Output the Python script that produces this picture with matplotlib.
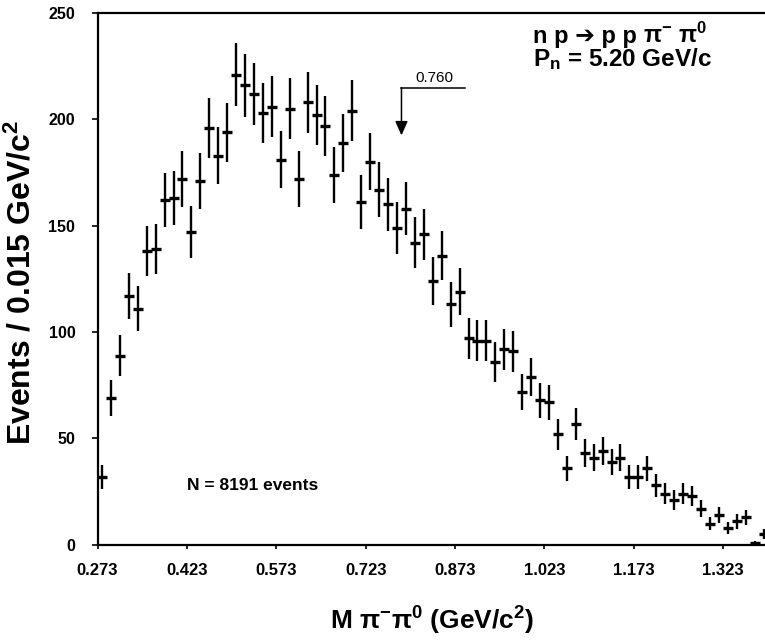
import numpy as np
import matplotlib
matplotlib.use("Agg")
import matplotlib.pyplot as plt

# histogram of M(pi- pi0), bins of 0.015 GeV/c^2 starting at 0.273
bin_start = 0.273
bin_width = 0.015
counts = [32, 69, 89, 117, 111, 138, 139, 162, 163, 172,
          147, 171, 196, 183, 194, 221, 216, 212, 203, 206,
          181, 205, 172, 208, 202, 197, 174, 189, 204, 161,
          180, 167, 160, 149, 158, 142, 146, 124, 136, 113,
          119, 97, 96, 96, 86, 92, 91, 72, 79, 68,
          67, 52, 36, 57, 43, 41, 44, 39, 41, 32,
          32, 36, 28, 24, 21, 24, 23, 17, 10, 14,
          8, 11, 13, 1, 5]
x_ticks = [0.273, 0.423, 0.573, 0.723, 0.873, 1.023, 1.173, 1.323]
y_ticks = [0, 50, 100, 150, 200, 250]

# marker for the 0.760 cut
cut_label = "0.760"
cut_x, cut_x_end = 0.783, 0.889
cut_top, cut_tip = 214.8, 192.5

plt.rcParams["font.family"] = ["Liberation Sans", "DejaVu Sans"]
plt.rcParams["font.weight"] = "bold"
plt.rcParams["mathtext.fontset"] = "custom"
plt.rcParams["mathtext.rm"] = "Liberation Sans:bold"
plt.rcParams["mathtext.default"] = "rm"

counts = np.array(counts, dtype=float)
centers = bin_start + bin_width * (np.arange(len(counts)) + 0.5)
errors = np.sqrt(counts)  # statistical errors as drawn

fig = plt.figure(figsize=(7.65, 6.41), dpi=100)
ax = fig.add_axes([0.1275, 0.150, 0.8725, 0.8297])

ax.errorbar(centers, counts, yerr=errors, fmt="_", color="black",
            ms=7, mew=2.4, elinewidth=1.7, capsize=0, clip_on=False)

ax.set_xlim(0.273, 1.393)
ax.set_ylim(0, 250)
ax.set_xticks(x_ticks)
ax.set_xticklabels([f"{t:.3f}" for t in x_ticks])
ax.set_yticks(y_ticks)
ax.tick_params(axis="x", direction="out", length=3, width=1.2, pad=10, labelsize=12)
ax.tick_params(axis="y", direction="out", length=4, width=1.2, pad=12, labelsize=11.5)
for lab in ax.get_xticklabels() + ax.get_yticklabels():
    lab.set_fontweight("bold")

for side in ("left", "bottom", "top"):
    ax.spines[side].set_linewidth(1.6)
ax.spines["right"].set_visible(False)

# cut marker
ax.plot([cut_x, cut_x_end], [cut_top, cut_top], color="black", lw=1.1)
ax.annotate("", xy=(cut_x, cut_tip), xytext=(cut_x, cut_top),
            arrowprops=dict(arrowstyle="-|>,head_length=0.85,head_width=0.38",
                            color="black", lw=1.1, shrinkA=0, shrinkB=0))
ax.text(0.806, 217.5, cut_label, fontsize=11, fontweight="normal",
        ha="left", va="baseline")

# reaction label: heavy arrow in plain text, pions with mathtext superscripts
t1 = ax.text(1.004, 236, "n p \u2794 p p", fontsize=17, fontweight="bold",
             ha="left", va="baseline")
fig.canvas.draw()
right_px = t1.get_window_extent().x1
x_after = ax.transData.inverted().transform((right_px + 6, 0))[0]
ax.text(x_after, 236, "\u03c0$^{-}$ \u03c0$^{0}$", fontsize=17,
        fontweight="bold", ha="left", va="baseline")

ax.text(1.004, 225, "P$_{n}$ = 5.20 GeV/c", fontsize=17.5,
        fontweight="bold", ha="left", va="baseline")
ax.text(0.423, 28, "N = 8191 events", fontsize=12.5, fontweight="bold",
        ha="left", va="center")

fig.text(22 / 765, 1 - 282 / 641, "Events / 0.015 GeV/c$^{2}$", rotation=90,
         ha="center", va="center", fontsize=23, fontweight="bold")
fig.text(432 / 765, 1 - 621 / 641, "M \u03c0$^{-}$\u03c0$^{0}$ (GeV/c$^{2}$)",
         ha="center", va="center", fontsize=19, fontweight="bold")

fig.savefig("out.png", dpi=100)
